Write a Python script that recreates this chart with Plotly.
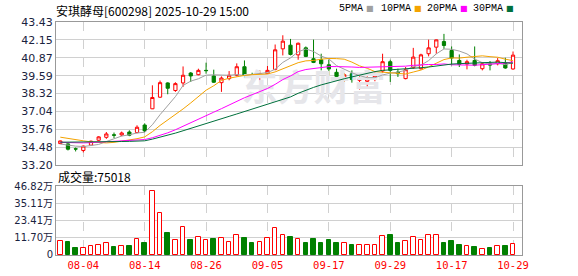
import plotly.graph_objects as go

dates = ["07-30", "07-31", "08-01", "08-04", "08-05", "08-06", "08-07", "08-08", "08-11", "08-12",
         "08-13", "08-14", "08-15", "08-18", "08-19", "08-20", "08-21", "08-22", "08-25", "08-26",
         "08-27", "08-28", "08-29", "09-01", "09-02", "09-03", "09-04", "09-05", "09-08", "09-09",
         "09-10", "09-11", "09-12", "09-15", "09-16", "09-17", "09-18", "09-19", "09-22", "09-23",
         "09-24", "09-25", "09-26", "09-29", "09-30", "10-09", "10-10", "10-13", "10-14", "10-15",
         "10-16", "10-17", "10-20", "10-21", "10-22", "10-23", "10-24", "10-27", "10-28", "10-29"]

opens = [34.73, 34.71, 34.36, 34.24, 34.62, 34.97, 35.18, 35.36, 35.35, 35.56,
         35.52, 36.06, 37.22, 38.05, 39.07, 38.53, 39.07, 39.78, 39.66, 39.97,
         39.57, 39.09, 39.38, 39.62, 40.23, 39.66, 39.62, 39.73, 40.04, 41.51,
         41.77, 41.08, 41.58, 40.80, 40.73, 40.37, 39.83, 39.43, 39.73, 39.26,
         39.19, 39.38, 39.92, 40.59, 39.85, 39.38, 40.16, 40.09, 41.16, 41.63,
         42.03, 41.39, 40.68, 40.42, 40.68, 40.09, 40.44, 40.44, 40.49, 40.07]
highs = [34.95, 34.76, 34.45, 34.59, 34.95, 35.26, 35.56, 35.52, 35.59, 35.68,
         36.04, 36.18, 38.90, 39.24, 39.12, 39.12, 40.25, 39.85, 40.09, 40.52,
         40.02, 39.54, 39.92, 40.47, 40.68, 39.80, 39.97, 40.28, 41.82, 42.48,
         42.22, 41.96, 41.68, 42.17, 41.16, 40.73, 40.09, 39.78, 39.97, 39.54,
         39.54, 39.90, 41.16, 40.73, 40.09, 40.21, 41.58, 41.16, 42.17, 42.17,
         42.58, 41.68, 41.11, 40.73, 41.68, 40.49, 40.64, 40.85, 40.87, 41.32]
lows = [34.70, 34.24, 34.17, 34.10, 34.57, 34.92, 35.07, 35.12, 35.26, 35.26,
        35.47, 35.54, 37.20, 38.00, 38.26, 38.43, 38.79, 39.14, 39.62, 39.73,
        39.07, 38.43, 39.26, 39.54, 39.45, 39.19, 39.19, 39.62, 39.97, 41.04,
        41.04, 40.73, 40.92, 40.49, 39.97, 39.62, 39.21, 39.14, 39.09, 38.60,
        38.67, 39.19, 39.78, 39.14, 39.50, 39.33, 40.09, 40.02, 40.97, 41.16,
        41.51, 40.33, 40.21, 40.04, 40.26, 39.97, 39.97, 40.33, 40.09, 40.02]
closes = [34.92, 34.33, 34.34, 34.55, 34.90, 35.21, 35.42, 35.33, 35.49, 35.33,
          35.90, 35.64, 38.03, 39.09, 38.69, 39.02, 39.62, 39.57, 39.97, 39.95,
          39.12, 39.42, 39.62, 40.23, 39.62, 39.50, 39.71, 39.97, 41.44, 42.06,
          41.11, 41.91, 40.97, 40.54, 40.44, 40.07, 39.54, 39.66, 39.31, 39.36,
          39.36, 39.57, 40.59, 39.97, 39.73, 40.02, 40.92, 41.08, 41.58, 42.15,
          41.75, 40.85, 40.40, 40.59, 40.33, 40.44, 40.35, 40.66, 40.14, 41.06]

volumes = [93400, 89000, 48000, 46000, 59000, 66000, 80000, 55000, 59000, 62000,
           107000, 82000, 437000, 285000, 150000, 103000, 189000, 103000, 121000, 100000,
           109000, 114000, 87000, 134000, 116000, 82000, 87000, 114000, 182000, 134000,
           123000, 107000, 82000, 109000, 82000, 103000, 82000, 80000, 68000, 66000,
           66000, 66000, 128000, 137000, 82000, 93000, 121000, 100000, 134000, 134000,
           82000, 96000, 68000, 59000, 55000, 39000, 48000, 59000, 62000, 75018]
vol_up = [1, 0, 0, 1, 1, 1, 1, 0, 1, 0,
          1, 0, 1, 1, 0, 1, 1, 0, 1, 1,
          0, 1, 1, 1, 0, 0, 1, 1, 1, 1,
          0, 1, 0, 0, 0, 0, 0, 1, 0, 1,
          1, 1, 1, 0, 0, 1, 1, 1, 1, 1,
          0, 0, 0, 1, 0, 1, 0, 1, 0, 1]

ma5 = [34.70, 34.62, 34.55, 34.52, 34.61, 34.67, 34.88, 35.08, 35.27, 35.36,
       35.49, 35.54, 36.08, 36.80, 37.47, 38.09, 38.89, 39.20, 39.37, 39.63,
       39.65, 39.61, 39.62, 39.67, 39.60, 39.68, 39.74, 39.81, 40.05, 40.54,
       40.86, 41.30, 41.50, 41.32, 40.99, 40.79, 40.31, 40.05, 39.80, 39.59,
       39.45, 39.45, 39.64, 39.77, 39.84, 39.98, 40.25, 40.34, 40.67, 41.15,
       41.50, 41.48, 41.35, 41.15, 40.78, 40.52, 40.42, 40.47, 40.38, 40.53]
ma10 = [35.19, 35.12, 35.02, 34.93, 34.85, 34.80, 34.78, 34.82, 34.90, 34.98,
        35.08, 35.21, 35.58, 36.03, 36.41, 36.79, 37.21, 37.64, 38.09, 38.55,
        38.87, 39.25, 39.41, 39.52, 39.61, 39.66, 39.67, 39.71, 39.86, 40.07,
        40.27, 40.52, 40.65, 40.68, 40.77, 40.82, 40.81, 40.77, 40.56, 40.29,
        40.12, 39.88, 39.84, 39.79, 39.72, 39.71, 39.85, 39.99, 40.22, 40.50,
        40.74, 40.86, 40.85, 40.91, 40.97, 41.01, 40.95, 40.91, 40.77, 40.66]
ma20 = [34.82, 34.80, 34.78, 34.78, 34.80, 34.83, 34.87, 34.90, 34.93, 34.95,
        34.98, 35.02, 35.15, 35.32, 35.50, 35.72, 35.98, 36.24, 36.50, 36.77,
        36.98, 37.23, 37.49, 37.78, 38.01, 38.23, 38.44, 38.67, 38.97, 39.31,
        39.57, 39.88, 40.03, 40.10, 40.19, 40.24, 40.24, 40.24, 40.21, 40.18,
        40.19, 40.20, 40.25, 40.24, 40.24, 40.27, 40.33, 40.38, 40.39, 40.39,
        40.43, 40.37, 40.34, 40.35, 40.34, 40.36, 40.40, 40.45, 40.49, 40.58]
ma30 = [34.83, 34.83, 34.83, 34.83, 34.84, 34.85, 34.86, 34.87, 34.88, 34.89,
        34.90, 34.93, 35.05, 35.18, 35.32, 35.48, 35.65, 35.83, 36.00, 36.17,
        36.34, 36.51, 36.68, 36.85, 37.02, 37.19, 37.36, 37.53, 37.70, 37.87,
        38.07, 38.33, 38.55, 38.75, 38.93, 39.09, 39.23, 39.37, 39.50, 39.64,
        39.75, 39.88, 39.97, 40.00, 40.03, 40.07, 40.11, 40.16, 40.21, 40.29,
        40.37, 40.42, 40.45, 40.46, 40.48, 40.51, 40.54, 40.56, 40.52, 40.48]

price_ticks = [33.20, 34.48, 35.76, 37.04, 38.32, 39.59, 40.87, 42.15, 43.43]
price_labels = ["33.20", "34.48", "35.76", "37.04", "38.32", "39.59", "40.87", "42.15", "43.43"]
vol_ticks = [0, 117050, 234100, 351150, 468200]
vol_labels = ["0", "11.70万", "23.41万", "35.11万", "46.82万"]
date_ticks = ["08-04", "08-14", "08-26", "09-05", "09-17", "09-29", "10-17", "10-29"]

title_text = "安琪酵母[600298] 2025-10-29 15:00"
vol_title = "成交量:75018"
ma_names = ["5PMA", "10PMA", "20PMA", "30PMA"]
ma_colors = ["#a0a0a0", "#f4a300", "#ff00ff", "#00703c"]

RED = "#ff0000"
GREEN = "#008000"
GRID = "#d0d0d0"
FRAME = "#999999"
TXT = "#1a2340"

fig = go.Figure()

# watermark (drawn first so it sits under everything)
fig.add_trace(go.Scatter(x=["09-15"], y=[38.45], mode="text", text=["东方财富"],
                         textfont=dict(family="Noto Sans CJK SC", size=36, color="#e6e6ea", weight=700),
                         xaxis="x", yaxis="y", hoverinfo="skip", cliponaxis=False))

fig.add_trace(go.Candlestick(
    x=dates, open=opens, high=highs, low=lows, close=closes,
    increasing=dict(line=dict(color=RED, width=1), fillcolor="#ffffff"),
    decreasing=dict(line=dict(color=GREEN, width=1), fillcolor=GREEN),
    whiskerwidth=0, xaxis="x", yaxis="y", hoverinfo="skip"))

for vals, col in zip([ma5, ma10, ma20, ma30], ma_colors):
    fig.add_trace(go.Scatter(x=dates, y=vals, mode="lines", line=dict(color=col, width=1),
                             xaxis="x", yaxis="y", hoverinfo="skip"))

fig.add_trace(go.Bar(
    x=dates, y=volumes, width=0.6,
    marker=dict(color=["#ffffff" if u else GREEN for u in vol_up],
                line=dict(color=[RED if u else GREEN for u in vol_up], width=1)),
    xaxis="x2", yaxis="y2", hoverinfo="skip"))

axis_common = dict(showline=True, linecolor=FRAME, linewidth=1, mirror=True, ticks="",
                   zeroline=False, fixedrange=True, automargin=False)

fig.update_layout(
    width=578, height=276,
    margin=dict(l=56, r=56, t=22, b=21, autoexpand=False),
    paper_bgcolor="white", plot_bgcolor="white",
    showlegend=False, boxgap=0.4, bargap=0,
    xaxis=dict(domain=[0, 1], anchor="y", type="category", categoryorder="array",
               categoryarray=dates, range=[-0.56, 60.17],
               tickvals=date_ticks, showticklabels=False, showgrid=True, gridcolor=GRID,
               griddash="dash", gridwidth=1, rangeslider=dict(visible=False), **axis_common),
    yaxis=dict(domain=[0.3863, 1], anchor="x", range=[33.20, 43.43], tickvals=price_ticks,
               ticktext=price_labels, showgrid=True, gridcolor=GRID, gridwidth=1,
               tickfont=dict(family="DejaVu Sans", size=11, color=TXT), **axis_common),
    xaxis2=dict(domain=[0, 1], anchor="y2", type="category", categoryorder="array",
                categoryarray=dates, matches="x", range=[-0.56, 60.17],
                tickvals=date_ticks, ticktext=date_ticks, showgrid=True, gridcolor=GRID,
                griddash="dash", gridwidth=1, rangeslider=dict(visible=False),
                tickfont=dict(family="DejaVu Sans Mono", size=10.5, color=RED), **axis_common),
    yaxis2=dict(domain=[0, 0.2961], anchor="x2", range=[0, 468200], tickvals=vol_ticks,
                ticktext=vol_labels, showgrid=True, gridcolor=GRID, gridwidth=1,
                tickfont=dict(family="DejaVu Sans, Noto Sans CJK SC", size=10, color=TXT), **axis_common),
)

ann = [dict(text=title_text, x=-0.003, y=1.0494, xanchor="left", yanchor="middle",
            font=dict(family="Noto Sans CJK SC", size=12, color="#000000")),
       dict(text=vol_title, x=0.002, y=0.336, xanchor="left", yanchor="middle",
            font=dict(family="Noto Sans CJK SC", size=12, color="#000000"))]
leg_text_x = [338, 380, 426, 472]
leg_sq_x = [365, 413, 459, 505]
for name, col, tx, sx in zip(ma_names, ma_colors, leg_text_x, leg_sq_x):
    ann.append(dict(text=name, x=(tx - 56) / 466, y=1.0558, xanchor="left", yanchor="middle",
                    font=dict(family="Liberation Mono", size=10, color="#000000")))
    ann.append(dict(text="■", x=(sx - 56) / 466, y=1.0558, xanchor="left", yanchor="middle",
                    font=dict(family="DejaVu Sans", size=8, color=col)))
for a in ann:
    a.update(xref="paper", yref="paper", showarrow=False, borderpad=0)
fig.update_layout(annotations=ann)

fig.write_html("out.html")
